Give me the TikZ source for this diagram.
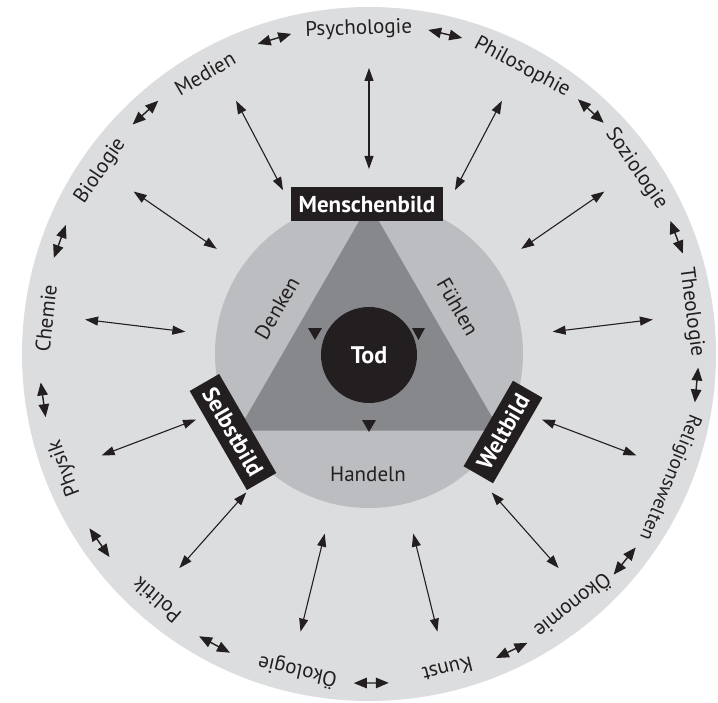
\documentclass[tikz,border=0pt]{standalone}
\usepackage{fontspec}
\setmainfont{PT Sans}
\usetikzlibrary{arrows.meta}
\definecolor{ring}{HTML}{DCDDDF}
\definecolor{disc}{HTML}{BCBDC0}
\definecolor{tri}{HTML}{87888B}
\definecolor{ink}{HTML}{231F20}

\begin{document}
\begin{tikzpicture}[x=1pt,y=1pt,
  lbl/.style={text=ink, font=\fontsize{21}{21}\selectfont, inner sep=0pt},
  inlbl/.style={text=ink, font=\fontsize{21}{21}\selectfont, inner sep=0pt},
  tag/.style={fill=ink, text=white, font=\bfseries\fontsize{23}{23}\selectfont,
    minimum height=34pt, inner xsep=8pt, inner ysep=0pt},
  link/.style={draw=ink, line width=1.1pt,
    {Triangle[length=13pt,width=9pt]}-{Triangle[length=13pt,width=9pt]}},
  pair/.style={draw=ink, line width=1.4pt,
    {Triangle[length=13pt,width=10.5pt]}-{Triangle[length=13pt,width=10.5pt]}},
  pointer/.style={fill=ink}
]
\useasboundingbox (-369,-348) rectangle (349,354);

% discs
\fill[ring] (0,0) circle (347);
\fill[disc] (0,0) circle (154);
\fill[tri] ([shift={(0,-1)}]90:151) -- ([shift={(0,-1)}]210:151) -- ([shift={(0,-1)}]330:151) -- cycle;

% pointers around the centre
\fill[pointer] (-61,26) -- (-47,26) -- (-54,14) -- cycle;
\fill[pointer] (43,26) -- (56,26) -- (49.5,14) -- cycle;
\fill[pointer] (-7,-66) -- (7,-66) -- (0,-78) -- cycle;

\node[circle, fill=ink, minimum size=96pt, inner sep=0pt, text=white,
  font=\bfseries\fontsize{24}{24}\selectfont] (tod) at (0,-1) {Tod};

% inner labels
\node[inlbl, rotate=60] (denken) at (-92,46) {Denken};
\node[inlbl, rotate=-60] (fuehlen) at (89,47) {Fühlen};
\node[inlbl] (handeln) at (-1,-120) {Handeln};

% the three images
\node[tag] (mensch) at (-2,150) {Menschenbild};
\node[tag, rotate=-60] (selbst) at (-136,-78) {Selbstbild};
\node[tag, rotate=60] (welt) at (134,-78) {Weltbild};

% disciplines on the ring
\foreach \a/\t [count=\n] in {91.8/Psychologie, 61.9/Philosophie, 34.7/Soziologie,
    7.4/Theologie, -51/Ökonomie, -76/Kunst,
    -102.7/Ökologie, -130.8/Politik, -159.4/Physik, 173.7/Chemie,
    145.7/Biologie, 120.3/Medien}
  \node[lbl, rotate=\a-90] (field\n) at (\a:325) {\t};
\node[lbl, font=\fontsize{19.5}{19.5}\selectfont, rotate=-112.3] (religion)
  at (-22.3:325) {Religionswelten};

% radial links
\foreach \i in {0,...,12} {
  \coordinate (out\i) at ({90-\i*360/13}:286);
  \coordinate (in\i) at ({90-\i*360/13}:185);
  \draw[link] (out\i) -- (in\i);
}

% links between neighbouring disciplines
\foreach \a [count=\n] in {106.7, 76.6, 47.6, 20.8, -5.4, -39, -64.3, -89.6,
    -118, -145, -172, 160, 132.8} {
  \coordinate (pa\n) at ([shift={(\a:329)}]{\a+90}:17.5);
  \coordinate (pb\n) at ([shift={(\a:329)}]{\a-90}:17.5);
  \draw[pair] (pa\n) -- (pb\n);
}
\end{tikzpicture}
\end{document}
